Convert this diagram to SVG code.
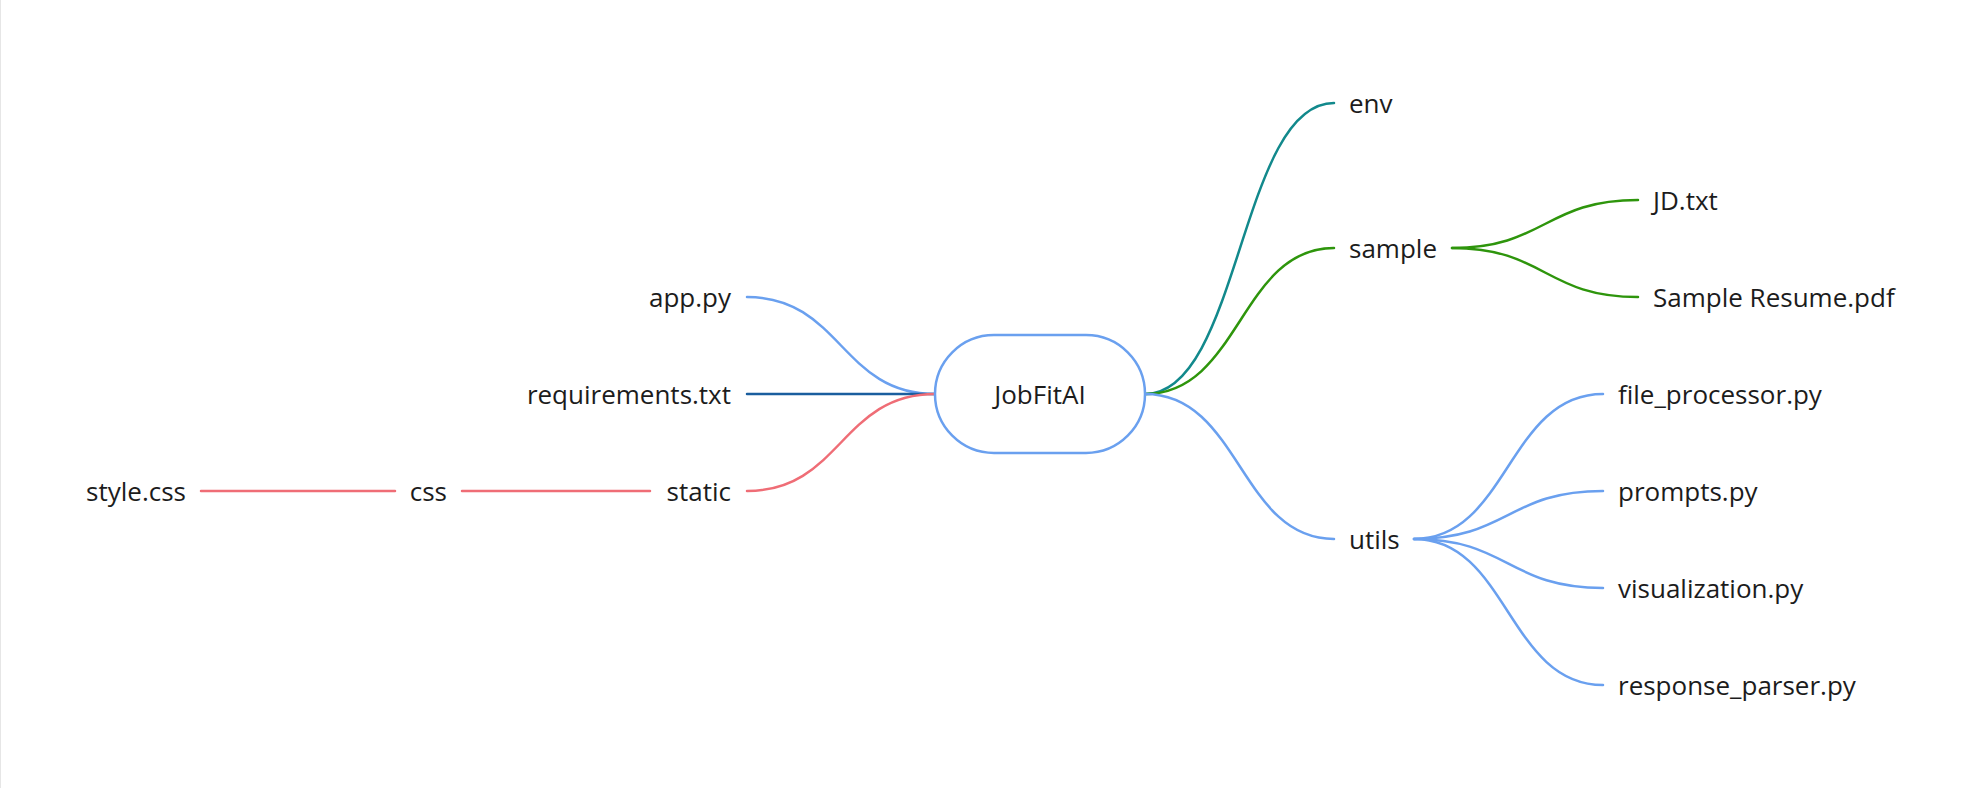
<svg xmlns="http://www.w3.org/2000/svg" width="1982" height="788" viewBox="0 0 1982 788">
<style>
.lbl{font-family:"Open Sans","Noto Sans",sans-serif;font-size:26px;fill:#1c1c1c}
.e{fill:none;stroke-width:2.5;stroke-linecap:round}
.lb{stroke:#6aa0ef}
.db{stroke:#1a5e9e}
.rd{stroke:#ef6d76}
.tl{stroke:#12898c}
.gr{stroke:#2e950c}
</style>
<rect x="0" y="0" width="1982" height="788" fill="#ffffff"/>
<line x1="0.5" y1="0" x2="0.5" y2="788" stroke="#e6e6e6" stroke-width="1"/>
<g id="connectors">
<path class="e lb" d="M935,394 C841,394 841,297 747,297"/>
<path class="e db" d="M935,394 L747,394"/>
<path class="e rd" d="M935,394 C841,394 841,491 747,491"/>
<path class="e rd" d="M650,491 L462,491"/>
<path class="e rd" d="M395,491 L201,491"/>
<path class="e tl" d="M1145,394 C1240,394 1240,103 1334,103"/>
<path class="e gr" d="M1145,394 C1240,394 1240,248 1334,248"/>
<path class="e lb" d="M1145,394 C1240,394 1240,539 1334,539"/>
<path class="e gr" d="M1452,248 C1545,248 1545,200 1638,200"/>
<path class="e gr" d="M1452,248 C1545,248 1545,297 1638,297"/>
<path class="e lb" d="M1414,539 C1508,539 1508,394 1603,394"/>
<path class="e lb" d="M1414,539 C1508,539 1508,491 1603,491"/>
<path class="e lb" d="M1414,539 C1508,539 1508,588 1603,588"/>
<path class="e lb" d="M1414,539 C1508,539 1508,685 1603,685"/>
</g>
<g id="root">
<rect x="935" y="335" width="210" height="118" rx="59" ry="59" fill="#ffffff" stroke="#6aa0ef" stroke-width="2.5"/>
<text class="lbl" x="1040" y="403.5" text-anchor="middle">JobFitAI</text>
</g>
<g id="app"><text class="lbl" x="731" y="306.5" text-anchor="end">app.py</text></g>
<g id="requirements"><text class="lbl" x="731" y="403.5" text-anchor="end">requirements.txt</text></g>
<g id="static"><text class="lbl" x="731" y="500.5" text-anchor="end">static</text></g>
<g id="css"><text class="lbl" x="447" y="500.5" text-anchor="end">css</text></g>
<g id="stylecss"><text class="lbl" x="186" y="500.5" text-anchor="end">style.css</text></g>
<g id="env"><text class="lbl" x="1349" y="112.5">env</text></g>
<g id="sample"><text class="lbl" x="1349" y="257.5">sample</text></g>
<g id="jd"><text class="lbl" x="1653" y="209.5">JD.txt</text></g>
<g id="resume"><text class="lbl" x="1653" y="306.5">Sample Resume.pdf</text></g>
<g id="utils"><text class="lbl" x="1349" y="548.5">utils</text></g>
<g id="fileproc"><text class="lbl" x="1618" y="403.5">file_processor.py</text></g>
<g id="prompts"><text class="lbl" x="1618" y="500.5">prompts.py</text></g>
<g id="viz"><text class="lbl" x="1618" y="597.5">visualization.py</text></g>
<g id="parser"><text class="lbl" x="1618" y="694.5">response_parser.py</text></g>
</svg>
